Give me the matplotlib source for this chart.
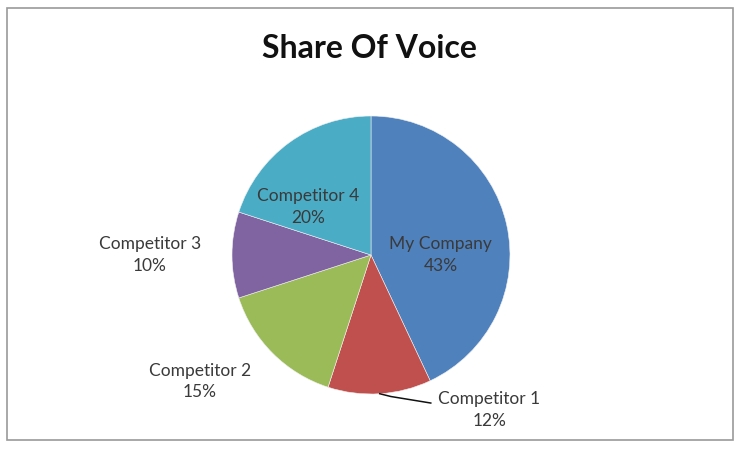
import numpy as np
import matplotlib.pyplot as plt
from matplotlib.patches import Rectangle

# Dados do gráfico
categorias = ['My Company', 'Competitor 1', 'Competitor 2', 'Competitor 3', 'Competitor 4']
valores = [43, 12, 15, 10, 20]
cores = ['#4F81BD', '#C0504D', '#9BBB59', '#8064A2', '#4BACC6']

plt.rcParams['font.family'] = ['Lato', 'DejaVu Sans']

fig = plt.figure(figsize=(7.41, 4.49), dpi=100, facecolor='white')

# Moldura do gráfico (estilo Excel)
fig.patches.append(Rectangle((7 / 741, 1 - 440 / 449), 726 / 741, 432 / 449,
                             transform=fig.transFigure, fill=False,
                             edgecolor='#9a9a9a', linewidth=1.2))

fig.text(369 / 741, 1 - 48 / 449, 'Share Of Voice', ha='center', va='center',
         fontsize=23, fontweight='bold', color='#111111')

# Pizza
cx, cy, r = 371, 255, 139
ax = fig.add_axes([(cx - r) / 741, (449 - cy - r) / 449, 2 * r / 741, 2 * r / 449])
wedges, _ = ax.pie(valores, colors=cores, startangle=90, counterclock=False,
                   wedgeprops=dict(linewidth=0.4, edgecolor='#f0f0f0'))
ax.set_xlim(-1, 1)
ax.set_ylim(-1, 1)
ax.set_aspect('auto')
ax.axis('off')

# Posições dos rótulos (coordenadas de dados, raio = 1)
pos_rotulos = [(0.50, 0.0), (0.85, -1.115), (-1.23, -0.91), (-1.59, 0.0), (-0.45, 0.345)]
for w, nome, v, (x, y) in zip(wedges, categorias, valores, pos_rotulos):
    ax.text(x, y, f'{nome}\n{v}%', ha='center', va='center', fontsize=12.5,
            color='#3a3a3a', linespacing=1.45, clip_on=False)

# Linha de chamada do Competitor 1
w = wedges[1]
ang = np.deg2rad((w.theta1 + w.theta2) / 2)
x0, y0 = np.cos(ang), np.sin(ang)
ax.plot([x0, x0 + 0.08, 0.43], [y0, y0 - 0.02, -1.065], color='#111111',
        linewidth=1.1, clip_on=False)

plt.savefig('out.png', dpi=100, facecolor='white')
